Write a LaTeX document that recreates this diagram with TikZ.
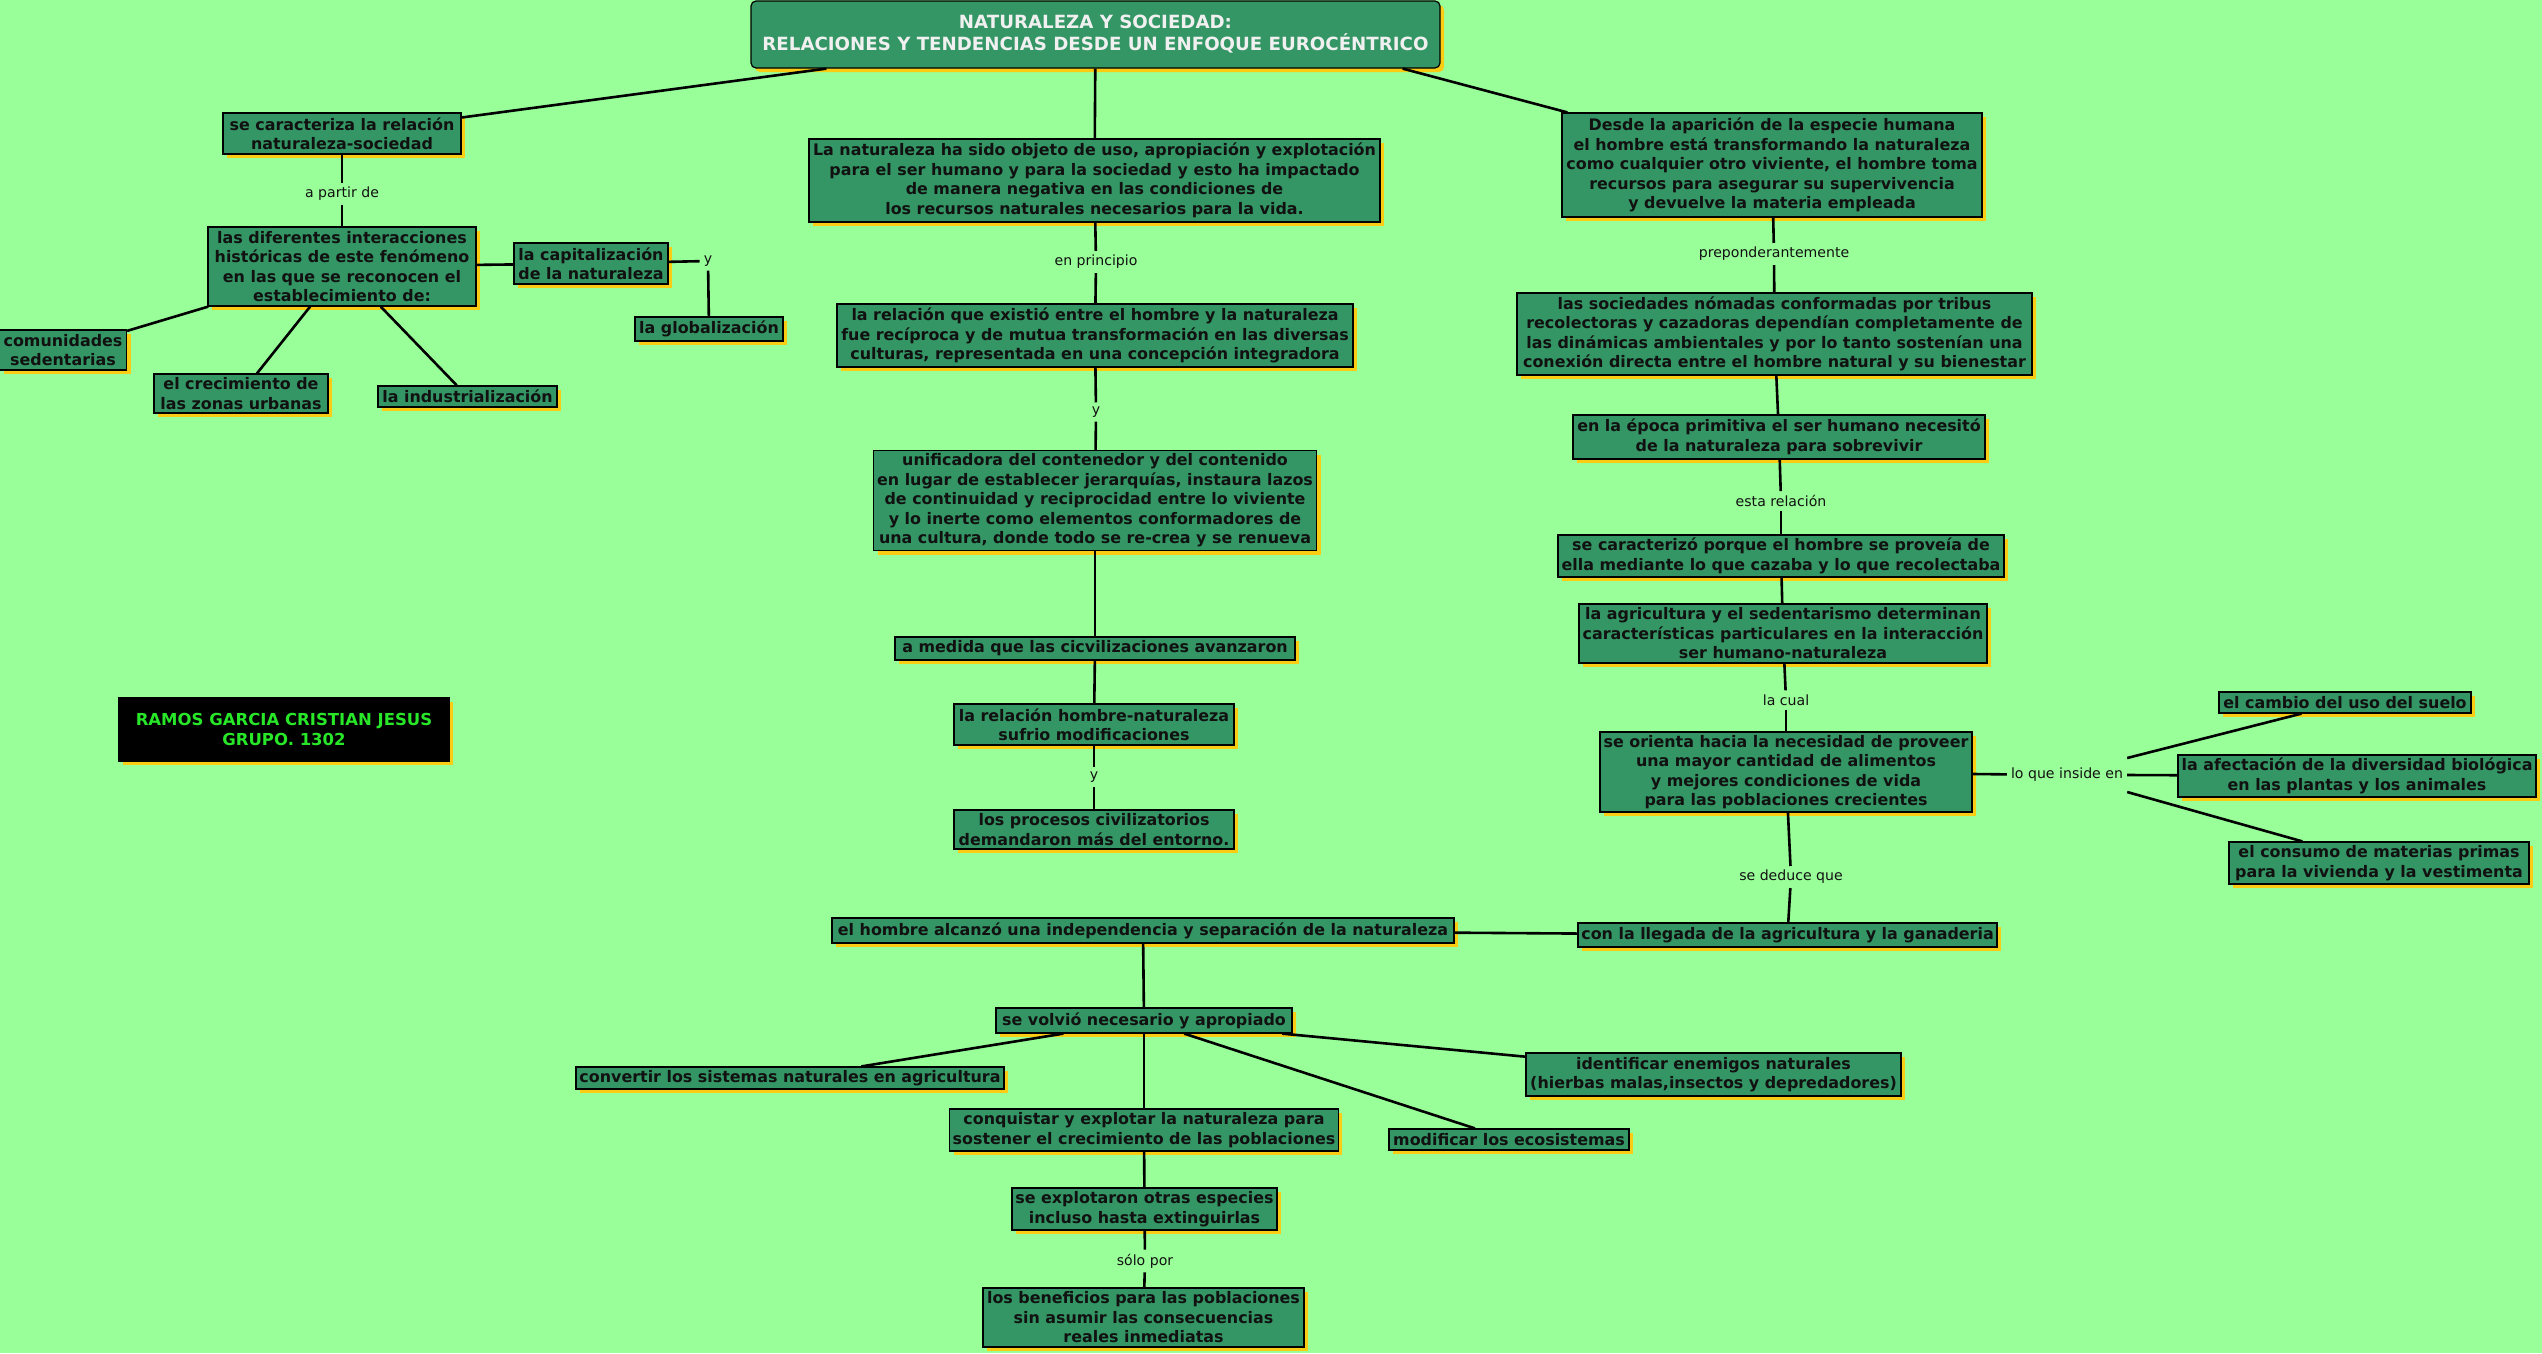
\documentclass[tikz,border=0pt]{standalone}
\usepackage{fontspec}
\setmainfont{DejaVu Sans}
\usetikzlibrary{shadows}
\definecolor{bg}{RGB}{153,255,153}
\definecolor{boxgreen}{RGB}{51,150,100}
\definecolor{shadowy}{RGB}{250,205,20}
\definecolor{txt}{RGB}{17,17,17}
\definecolor{titletxt}{RGB}{240,240,240}
\definecolor{namegreen}{RGB}{40,230,40}
\tikzset{
  concept/.style={draw=black, line width=1.2pt, fill=boxgreen, text=txt,
    font=\bfseries\fontsize{15.9}{19.5}\selectfont, align=center,
    inner xsep=3pt, inner ysep=1.5pt,
    drop shadow={shadow xshift=4pt, shadow yshift=-4pt, fill=shadowy, opacity=1}},
  titlebox/.style={concept, rounded corners=5pt, text=titletxt,
    font=\bfseries\fontsize{18.2}{22}\selectfont},
  namebox/.style={concept, fill=black, text=namegreen,
    font=\bfseries\fontsize{16.5}{20}\selectfont},
  linkword/.style={font=\fontsize{14.1}{16}\selectfont, text=txt, inner sep=4pt},
  conn/.style={draw=black, line width=2.6pt},
}
\begin{document}
\begin{tikzpicture}[x=1pt, y=-1pt]
\fill[bg] (0,0) rectangle (2542,1353);
\useasboundingbox (0,0) rectangle (2542,1353);

% title
\node[titlebox, minimum width=689pt, minimum height=67pt] (title) at (1095.5,34.5)
  {NATURALEZA Y SOCIEDAD:\\ RELACIONES Y TENDENCIAS DESDE UN ENFOQUE EUROCÉNTRICO};

% left branch
\node[concept, minimum width=238pt, minimum height=41pt] (n2) at (342,133.5)
  {se caracteriza la relación\\naturaleza-sociedad};
\node[linkword] (l1) at (342,194) {a partir de};
\node[concept, minimum width=268pt, minimum height=79pt] (n4) at (342,266.5)
  {las diferentes interacciones\\históricas de este fenómeno\\en las que se reconocen el\\establecimiento de:};
\node[concept, minimum width=154pt, minimum height=41pt] (n5) at (591,263.5)
  {la capitalización\\de la naturaleza};
\node[linkword] (ly1) at (708,261) {y};
\node[concept, minimum width=148pt, minimum height=24pt] (n7) at (709,329)
  {la globalización};
\node[concept, minimum width=127pt, minimum height=40pt] (n8) at (63,350)
  {comunidades\\sedentarias};
\node[concept, minimum width=174pt, minimum height=39pt] (n9) at (241,393.5)
  {el crecimiento de\\las zonas urbanas};
\node[concept, minimum width=179pt, minimum height=21pt] (n10) at (467.5,396.5)
  {la industrialización};

\node[namebox, minimum width=330pt, minimum height=63pt] (name) at (284,729.5)
  {RAMOS GARCIA CRISTIAN JESUS\\GRUPO. 1302};

% center branch
\node[concept, minimum width=571pt, minimum height=83pt] (n11) at (1094.5,180.5)
  {La naturaleza ha sido objeto de uso, apropiación y explotación\\para el ser humano y para la sociedad y esto ha impactado\\de manera negativa en las condiciones de\\los recursos naturales necesarios para la vida.};
\node[linkword] (l2) at (1096,262) {en principio};
\node[concept, minimum width=516pt, minimum height=63pt] (n13) at (1095,335.5)
  {la relación que existió entre el hombre y la naturaleza\\fue recíproca y de mutua transformación en las diversas\\culturas, representada en una concepción integradora};
\node[linkword] (l3) at (1096,412) {y};
\node[concept, minimum width=443pt, minimum height=100pt] (n15) at (1095,500.5)
  {unificadora del contenedor y del contenido\\en lugar de establecer jerarquías, instaura lazos\\de continuidad y reciprocidad entre lo viviente\\y lo inerte como elementos conformadores de\\una cultura, donde todo se re-crea y se renueva};
\node[concept, minimum width=400pt, minimum height=23pt] (n16) at (1095,648.5)
  {a medida que las cicvilizaciones avanzaron};
\node[concept, minimum width=280pt, minimum height=41pt] (n17) at (1094,724.5)
  {la relación hombre-naturaleza\\sufrio modificaciones};
\node[linkword] (l4) at (1094,777) {y};
\node[concept, minimum width=280pt, minimum height=39pt] (n19) at (1094,829.5)
  {los procesos civilizatorios\\demandaron más del entorno.};

% right branch
\node[concept, minimum width=420pt, minimum height=104pt] (n20) at (1772,165)
  {Desde la aparición de la especie humana\\el hombre está transformando la naturaleza\\como cualquier otro viviente, el hombre toma\\recursos para asegurar su supervivencia\\y devuelve la materia empleada};
\node[linkword] (l5) at (1774,254) {preponderantemente};
\node[concept, minimum width=515pt, minimum height=82pt] (n22) at (1774.5,334)
  {las sociedades nómadas conformadas por tribus\\recolectoras y cazadoras dependían completamente de\\las dinámicas ambientales y por lo tanto sostenían una\\conexión directa entre el hombre natural y su bienestar};
\node[concept, minimum width=412pt, minimum height=44pt] (n23) at (1779,437)
  {en la época primitiva el ser humano necesitó\\de la naturaleza para sobrevivir};
\node[linkword] (l6) at (1781,501) {esta relación};
\node[concept, minimum width=446pt, minimum height=42pt] (n25) at (1781,556)
  {se caracterizó porque el hombre se proveía de\\ella mediante lo que cazaba y lo que recolectaba};
\node[concept, minimum width=408pt, minimum height=59pt] (n26) at (1783,633.5)
  {la agricultura y el sedentarismo determinan\\características particulares en la interacción\\ser humano-naturaleza};
\node[linkword] (l7) at (1786,700) {la cual};
\node[concept, minimum width=372pt, minimum height=80pt] (n28) at (1786,772)
  {se orienta hacia la necesidad de proveer\\una mayor cantidad de alimentos\\y mejores condiciones de vida\\para las poblaciones crecientes};
\node[linkword] (l8) at (2067,775) {lo que inside en};
\node[concept, minimum width=252pt, minimum height=21pt] (n30) at (2345,702.5)
  {el cambio del uso del suelo};
\node[concept, minimum width=358pt, minimum height=42pt] (n31) at (2357,776)
  {la afectación de la diversidad biológica\\en las plantas y los animales};
\node[concept, minimum width=300pt, minimum height=42pt] (n32) at (2379,863)
  {el consumo de materias primas\\para la vivienda y la vestimenta};
\node[linkword] (l9) at (1791,877) {se deduce que};
\node[concept, minimum width=419pt, minimum height=24pt] (n34) at (1787.5,935)
  {con la llegada de la agricultura y la ganaderia};

% bottom branch
\node[concept, minimum width=622pt, minimum height=25pt] (n35) at (1143,930.5)
  {el hombre alcanzó una independencia y separación de la naturaleza};
\node[concept, minimum width=296pt, minimum height=25pt] (n36) at (1144,1020.5)
  {se volvió necesario y apropiado};
\node[concept, minimum width=428pt, minimum height=22pt] (n37) at (790,1078)
  {convertir los sistemas naturales en agricultura};
\node[concept, minimum width=388pt, minimum height=42pt] (n38) at (1144,1130)
  {conquistar y explotar la naturaleza para\\sostener el crecimiento de las poblaciones};
\node[concept, minimum width=240pt, minimum height=21pt] (n39) at (1509,1139.5)
  {modificar los ecosistemas};
\node[concept, minimum width=375pt, minimum height=43pt] (n40) at (1713.5,1074.5)
  {identificar enemigos naturales\\(hierbas malas,insectos y depredadores)};
\node[concept, minimum width=265pt, minimum height=42pt] (n41) at (1144.5,1209)
  {se explotaron otras especies\\incluso hasta extinguirlas};
\node[linkword] (l10) at (1145,1261) {sólo por};
\node[concept, minimum width=321pt, minimum height=59pt] (n43) at (1143.5,1317.5)
  {los beneficios para las poblaciones\\sin asumir las consecuencias\\reales inmediatas};

% connectors
\draw[conn] ([xshift=76pt]title.south west) -- (n2);
\draw[conn] (title) -- (n11);
\draw[conn] ([xshift=-38pt]title.south east) -- ([xshift=6pt]n20.north west);
\draw[conn] (n2) -- (l1);
\draw[conn] (l1) -- (n4);
\draw[conn] (n4) -- (n5);
\draw[conn] (n5) -- (ly1);
\draw[conn] (ly1) -- (n7);
\draw[conn] (n4) -- (n8);
\draw[conn] (n4) -- (n9);
\draw[conn] (n4) -- (n10);
\draw[conn] (n11) -- (l2);
\draw[conn] (l2) -- (n13);
\draw[conn] (n13) -- (l3);
\draw[conn] (l3) -- (n15);
\draw[conn] (n15) -- (n16);
\draw[conn] (n16) -- (n17);
\draw[conn] (n17) -- (l4);
\draw[conn] (l4) -- (n19);
\draw[conn] (n20) -- (l5);
\draw[conn] (l5) -- (n22);
\draw[conn] (n22) -- (n23);
\draw[conn] (n23) -- (l6);
\draw[conn] (l6) -- (n25);
\draw[conn] (n25) -- (n26);
\draw[conn] (n26) -- (l7);
\draw[conn] (l7) -- (n28);
\draw[conn] (n28) -- (l8);
\draw[conn] ([yshift=17pt]l8.east) -- (n30);
\draw[conn] (l8.east) -- (n31);
\draw[conn] ([yshift=-17pt]l8.east) -- (n32);
\draw[conn] (n28) -- (l9);
\draw[conn] (l9) -- (n34);
\draw[conn] (n35) -- (n34);
\draw[conn] (n35) -- (n36);
\draw[conn] (n36) -- (n37);
\draw[conn] (n36) -- (n38);
\draw[conn] (n36) -- (n39);
\draw[conn] (n36) -- (n40);
\draw[conn] (n38) -- (n41);
\draw[conn] (n41) -- (l10);
\draw[conn] (l10) -- (n43);
\end{tikzpicture}
\end{document}
